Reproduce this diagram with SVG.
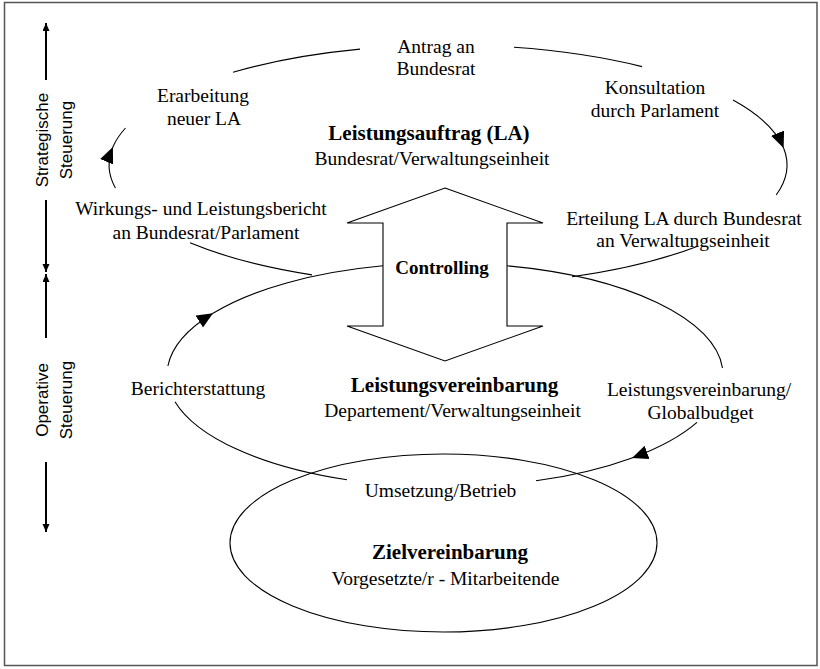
<svg xmlns="http://www.w3.org/2000/svg" width="820" height="669" viewBox="0 0 820 669">
<defs>
<style>
.t{font-family:"Liberation Serif","Times New Roman",serif;font-size:19.5px;text-anchor:middle;fill:#000}
.b{font-family:"Liberation Serif","Times New Roman",serif;font-size:21px;font-weight:bold;text-anchor:middle;fill:#000}
.c{font-family:"Liberation Serif","Times New Roman",serif;font-size:19px;font-weight:bold;text-anchor:middle;fill:#000}
.ax{font-family:"Liberation Sans",Arial,sans-serif;font-size:17px;text-anchor:middle;fill:#000}
.ln{fill:none;stroke:#000;stroke-width:1.1}
.axl{fill:none;stroke:#000;stroke-width:2}
</style>
<marker id="ah" markerUnits="userSpaceOnUse" markerWidth="17" markerHeight="15" refX="16" refY="7" orient="auto" viewBox="0 0 17 15">
<path d="M0,0 L16,7 L0,14 z" fill="#000"/>
</marker>
<marker id="sa" markerUnits="userSpaceOnUse" markerWidth="9" markerHeight="8" refX="8" refY="3.5" orient="auto" viewBox="0 0 9 8">
<path d="M0,0 L8,3.5 L0,7 z" fill="#000"/>
</marker>
</defs>
<rect id="frame" x="4.5" y="2.5" width="812.5" height="663" fill="#fff" stroke="#555" stroke-width="1.5"/>

<g id="axis">
<path class="axl" d="M46,80 L46,23" marker-end="url(#sa)"/>
<path class="axl" d="M46,200 L46,272" marker-end="url(#sa)"/>
<path class="axl" d="M46,338 L46,274" marker-end="url(#sa)"/>
<path class="axl" d="M46,462 L46,532" marker-end="url(#sa)"/>
<text class="ax" transform="translate(48,140) rotate(-90)">Strategische</text>
<text class="ax" transform="translate(72,140) rotate(-90)">Steuerung</text>
<text class="ax" transform="translate(48,400) rotate(-90)">Operative</text>
<text class="ax" transform="translate(72,400) rotate(-90)">Steuerung</text>
</g>

<g id="connectors">
<path class="ln" d="M115.4,188 A339,120 0 0 1 112.9,147" marker-end="url(#ah)"/>
<path class="ln" d="M112.9,147 A339,120 0 0 1 125.5,128"/>
<path class="ln" d="M233,72.2 A339,120 0 0 1 360,49.1"/>
<path class="ln" d="M514,47.3 A339,120 0 0 1 642,66.6"/>
<path class="ln" d="M733,100 A339,120 0 0 1 783.6,148" marker-end="url(#ah)"/>
<path class="ln" d="M783.6,148 A339,120 0 0 1 776.2,195"/>
<path class="ln" d="M697,246.4 A339,120 0 0 1 572,276.7"/>
<path class="ln" d="M312,274.9 A339,120 0 0 1 190,242.8"/>
<path class="ln" d="M507,265.8 A278,112 0 0 1 722.5,368"/>
<path class="ln" d="M697,422.3 A278,112 0 0 1 632,457.9" marker-end="url(#ah)"/>
<path class="ln" d="M632,457.9 A278,112 0 0 1 536,480.8"/>
<path class="ln" d="M347,479.8 A278,112 0 0 1 175,401.7"/>
<path class="ln" d="M167.9,366 A278,112 0 0 1 213,313.3" marker-end="url(#ah)"/>
<path class="ln" d="M213,313.3 A278,112 0 0 1 383,265.8"/>
</g>

<g id="node-ziel">
<ellipse class="ln" cx="443.5" cy="543" rx="213.5" ry="89"/>
<text class="b" x="450" y="559">Zielvereinbarung</text>
<text class="t" x="445.5" y="584.5">Vorgesetzte/r - Mitarbeitende</text>
</g>

<g id="node-controlling">
<polygon points="445,188 543,223 507,223 507,326 543,326 445,361 347,326 383,326 383,223 347,223" fill="#fff" stroke="#000" stroke-width="1.1"/>
<text class="c" x="442" y="274">Controlling</text>
</g>

<g id="node-leistungsauftrag">
<text class="b" x="429" y="140">Leistungsauftrag (LA)</text>
<text class="t" x="432" y="165">Bundesrat/Verwaltungseinheit</text>
</g>

<g id="node-leistungsvereinbarung">
<text class="b" x="454.5" y="392">Leistungsvereinbarung</text>
<text class="t" x="452.5" y="417">Departement/Verwaltungseinheit</text>
</g>

<g id="label-antrag">
<text class="t" x="436" y="53">Antrag an</text>
<text class="t" x="436" y="75">Bundesrat</text>
</g>
<g id="label-konsultation">
<text class="t" x="655" y="94">Konsultation</text>
<text class="t" x="655" y="117">durch Parlament</text>
</g>
<g id="label-erarbeitung">
<text class="t" x="203" y="102">Erarbeitung</text>
<text class="t" x="204" y="124.5">neuer LA</text>
</g>
<g id="label-wirkungsbericht">
<text class="t" x="201" y="215">Wirkungs- und Leistungsbericht</text>
<text class="t" x="206" y="238.5">an Bundesrat/Parlament</text>
</g>
<g id="label-erteilung">
<text class="t" x="684" y="224.5">Erteilung LA durch Bundesrat</text>
<text class="t" x="683" y="246.5">an Verwaltungseinheit</text>
</g>
<g id="label-berichterstattung">
<text class="t" x="198" y="394.5">Berichterstattung</text>
</g>
<g id="label-globalbudget">
<text class="t" x="699" y="395.5">Leistungsvereinbarung/</text>
<text class="t" x="700.5" y="418.5">Globalbudget</text>
</g>
<g id="label-umsetzung">
<text class="t" x="440.5" y="496.5">Umsetzung/Betrieb</text>
</g>
</svg>
